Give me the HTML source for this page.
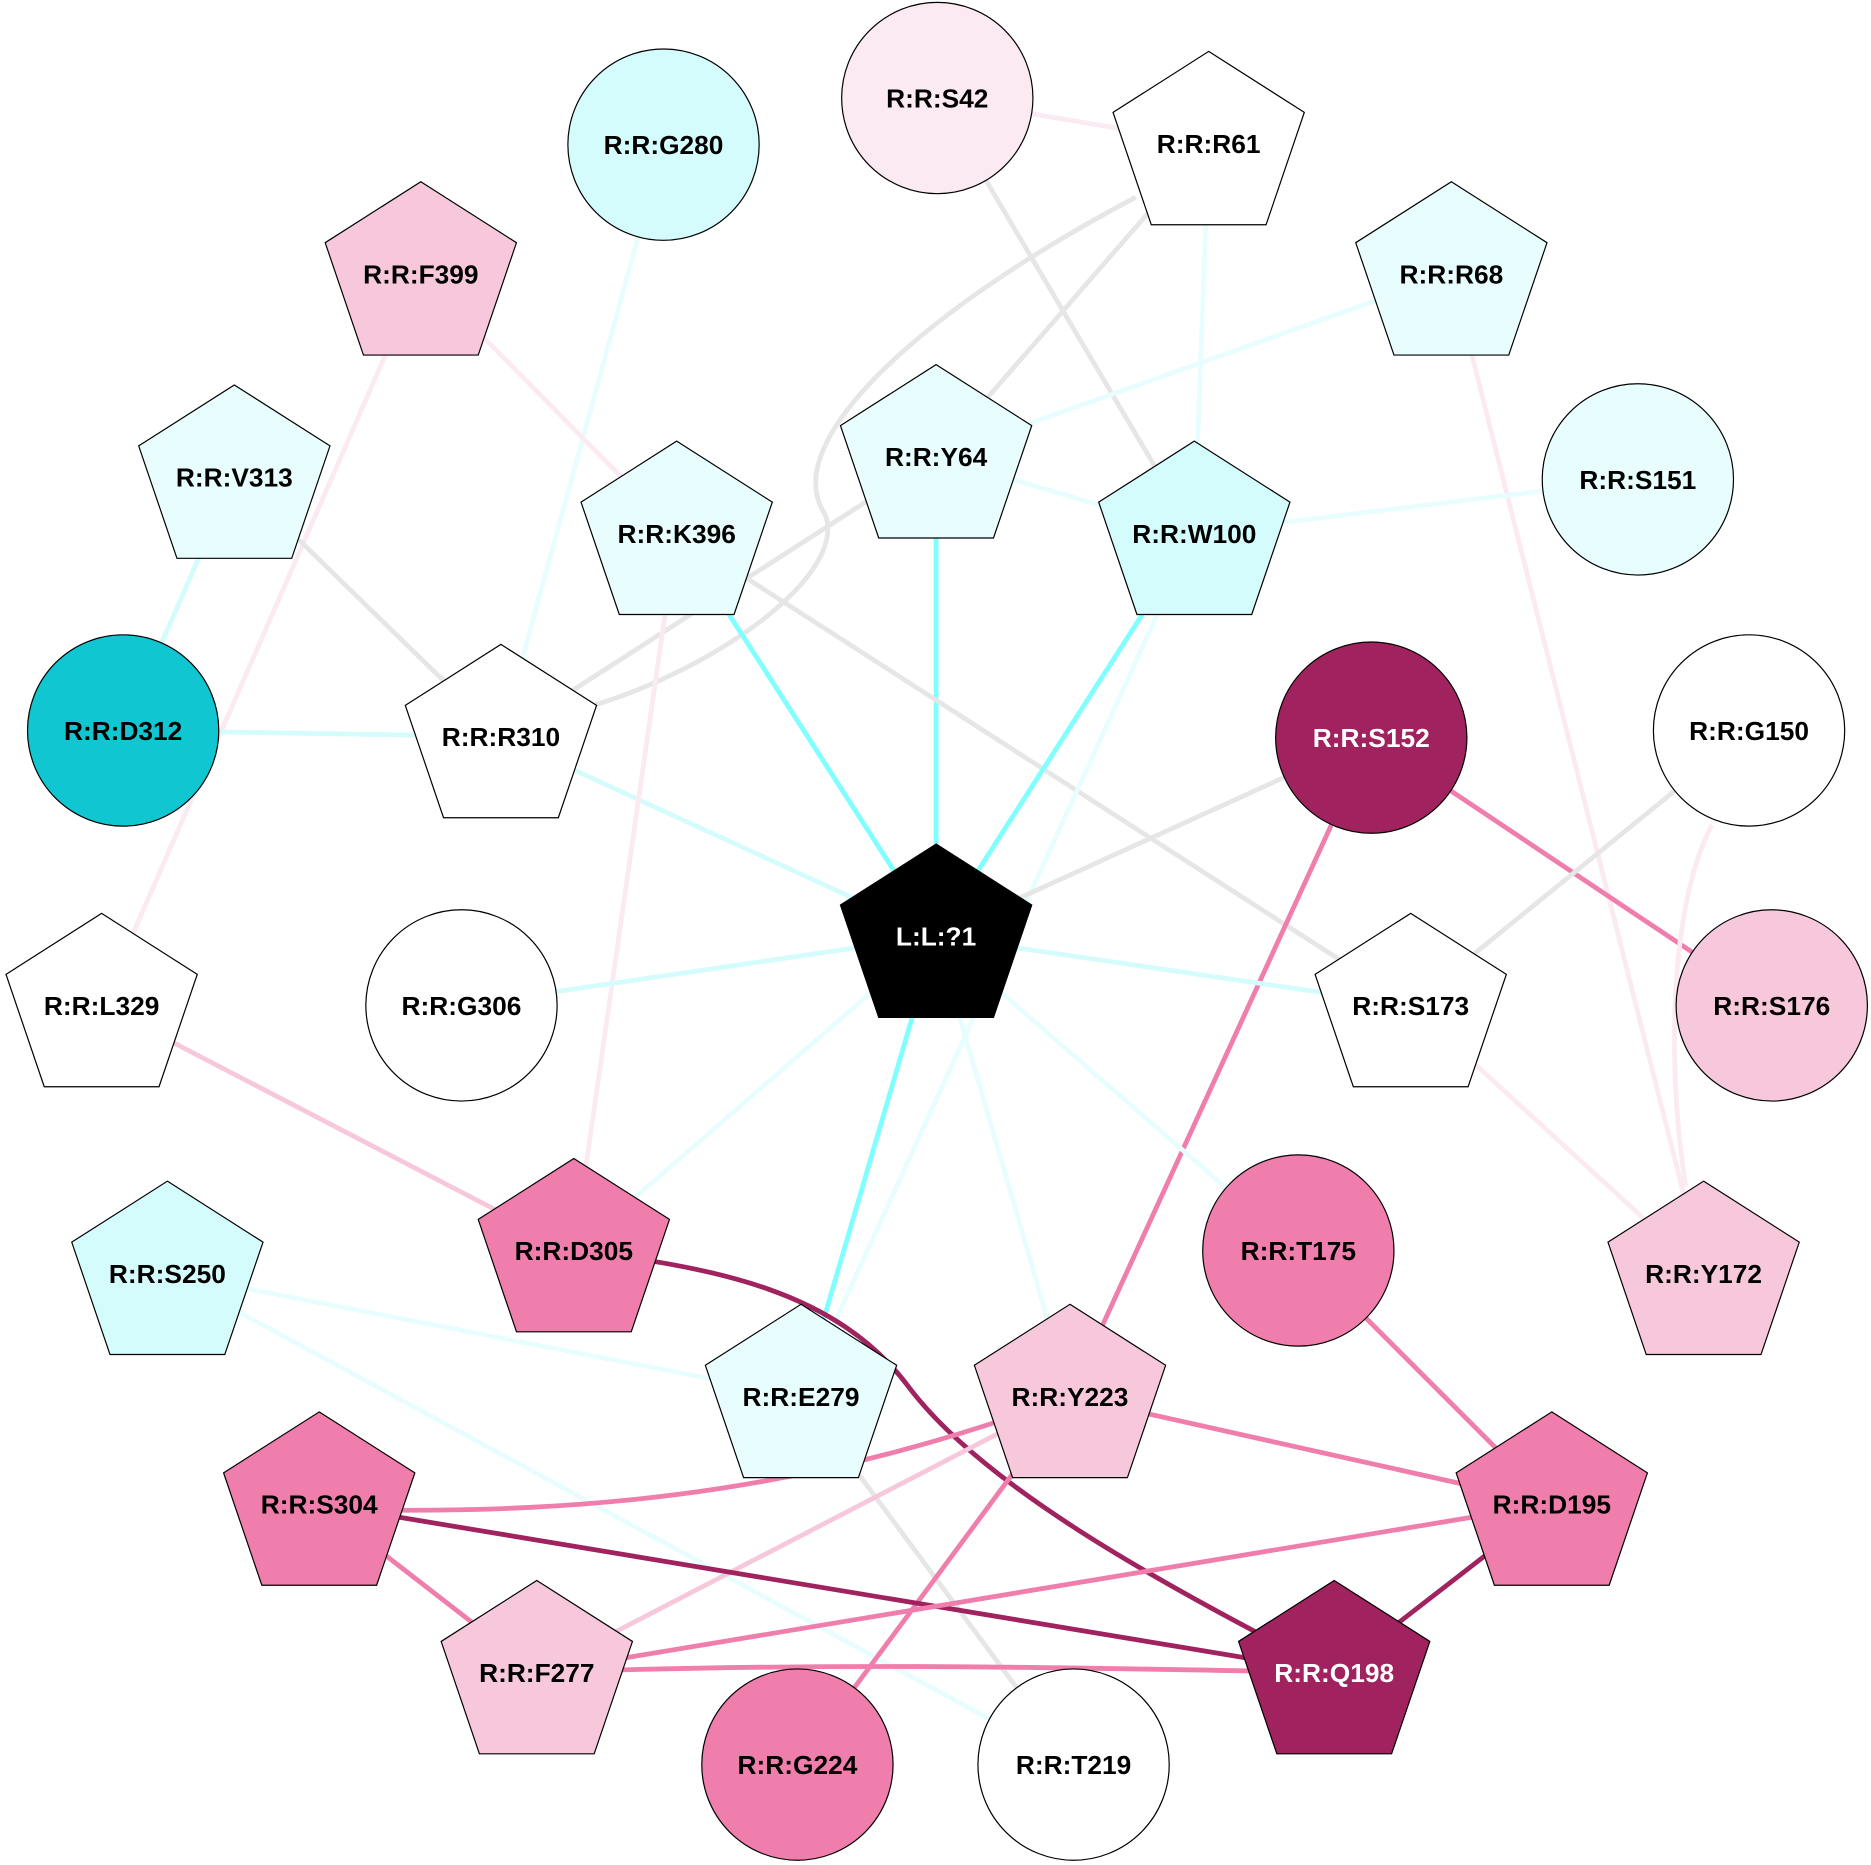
<!DOCTYPE html>
<html><head><style>html,body{margin:0;padding:0;background:#fff}svg{display:block}</style></head><body>
<svg width="1871" height="1865" viewBox="0 0 1565 1560" xmlns="http://www.w3.org/2000/svg" font-family="Liberation Sans, Arial, sans-serif" font-weight="bold" font-size="22">
<defs>
<symbol id="p" overflow="visible"><polygon points="0,-77 80,-26 48,68 -48,68 -80,-26" stroke="#000" stroke-width="1"/></symbol>
</defs>
<g fill="none" stroke-width="4">
<line x1="784" y1="82" x2="1011" y2="120" stroke="#fbeaf2"/>
<line x1="784" y1="82" x2="999" y2="446" stroke="#e6e6e6"/>
<line x1="1011" y1="120" x2="783" y2="382" stroke="#e6e6e6"/>
<path d="M950,165 C770,260 650,370 690,430 C710,480 600,560 490,592" stroke="#e6e6e6"/>
<line x1="783" y1="382" x2="419" y2="616" stroke="#e6e6e6"/>
<line x1="1011" y1="120" x2="999" y2="446" stroke="#e8fdfd"/>
<line x1="1214" y1="229" x2="783" y2="382" stroke="#e8fdfd"/>
<line x1="1214" y1="229" x2="1425" y2="1065" stroke="#fbeaf2"/>
<line x1="555" y1="121" x2="419" y2="616" stroke="#e8fdfd"/>
<line x1="352" y1="229" x2="566" y2="446" stroke="#fbeaf2"/>
<line x1="352" y1="229" x2="85" y2="841" stroke="#fbeaf2"/>
<line x1="196" y1="399" x2="103" y2="611" stroke="#d4fcfc"/>
<line x1="196" y1="399" x2="419" y2="616" stroke="#e6e6e6"/>
<line x1="103" y1="611" x2="419" y2="616" stroke="#d4fcfc"/>
<line x1="419" y1="616" x2="783" y2="783" stroke="#d4fcfc"/>
<line x1="783" y1="382" x2="783" y2="783" stroke="#80ffff"/>
<line x1="783" y1="382" x2="999" y2="446" stroke="#e8fdfd"/>
<line x1="566" y1="446" x2="783" y2="783" stroke="#80ffff"/>
<line x1="566" y1="446" x2="1180" y2="841" stroke="#e6e6e6"/>
<line x1="566" y1="446" x2="480" y2="1046" stroke="#fbeaf2"/>
<line x1="999" y1="446" x2="783" y2="783" stroke="#80ffff"/>
<line x1="999" y1="446" x2="1370" y2="401" stroke="#e8fdfd"/>
<line x1="999" y1="446" x2="670" y2="1168" stroke="#e8fdfd"/>
<line x1="1147" y1="617" x2="783" y2="783" stroke="#e6e6e6"/>
<line x1="1147" y1="617" x2="895" y2="1168" stroke="#f07eac"/>
<line x1="1147" y1="617" x2="1482" y2="841" stroke="#f07eac"/>
<line x1="1463" y1="611" x2="1180" y2="841" stroke="#e6e6e6"/>
<path d="M1432,690 C1395,760 1395,900 1410,992" stroke="#fbeaf2"/>
<line x1="783" y1="783" x2="386" y2="841" stroke="#d4fcfc"/>
<line x1="783" y1="783" x2="1180" y2="841" stroke="#d4fcfc"/>
<line x1="783" y1="783" x2="480" y2="1046" stroke="#e8fdfd"/>
<line x1="783" y1="783" x2="670" y2="1168" stroke="#80ffff"/>
<line x1="783" y1="783" x2="895" y2="1168" stroke="#e8fdfd"/>
<line x1="783" y1="783" x2="1086" y2="1046" stroke="#e8fdfd"/>
<line x1="85" y1="841" x2="480" y2="1046" stroke="#f7c8dc"/>
<line x1="1180" y1="841" x2="1425" y2="1065" stroke="#fbeaf2"/>
<path d="M480,1046 C600,1060 700,1080 760,1160 C820,1240 960,1320 1116,1399" stroke="#a0225e"/>
<line x1="1086" y1="1046" x2="1298" y2="1258" stroke="#f07eac"/>
<line x1="140" y1="1065" x2="670" y2="1168" stroke="#e8fdfd"/>
<line x1="140" y1="1065" x2="898" y2="1476" stroke="#e8fdfd"/>
<line x1="670" y1="1168" x2="898" y2="1476" stroke="#e6e6e6"/>
<line x1="895" y1="1168" x2="1298" y2="1258" stroke="#f07eac"/>
<path d="M895,1168 C700,1240 520,1270 267,1262" stroke="#f07eac"/>
<line x1="895" y1="1168" x2="449" y2="1399" stroke="#f7c8dc"/>
<line x1="895" y1="1168" x2="667" y2="1476" stroke="#f07eac"/>
<line x1="267" y1="1258" x2="1116" y2="1399" stroke="#a0225e"/>
<line x1="267" y1="1258" x2="449" y2="1399" stroke="#f07eac"/>
<line x1="1298" y1="1258" x2="449" y2="1399" stroke="#f07eac"/>
<line x1="1298" y1="1258" x2="1116" y2="1399" stroke="#a0225e"/>
<path d="M449,1399 C700,1390 900,1395 1116,1399" stroke="#f07eac"/>
</g>
<g stroke="#000" stroke-width="1">
<circle cx="784" cy="82" r="80" fill="#fbeaf2"/>
<circle cx="555" cy="121" r="80" fill="#d4fcfc"/>
<circle cx="1370" cy="401" r="80" fill="#e8fdfd"/>
<circle cx="103" cy="611" r="80" fill="#10c6d0"/>
<circle cx="1147" cy="617" r="80" fill="#a0225e"/>
<circle cx="1463" cy="611" r="80" fill="#fff"/>
<circle cx="386" cy="841" r="80" fill="#fff"/>
<circle cx="1482" cy="841" r="80" fill="#f7c8dc"/>
<circle cx="1086" cy="1046" r="80" fill="#f07eac"/>
<circle cx="667" cy="1476" r="80" fill="#f07eac"/>
<circle cx="898" cy="1476" r="80" fill="#fff"/>
</g>
<use href="#p" x="783" y="783" fill="#000"/>
<use href="#p" x="1011" y="120" fill="#fff"/>
<use href="#p" x="352" y="229" fill="#f7c8dc"/>
<use href="#p" x="1214" y="229" fill="#e8fdfd"/>
<use href="#p" x="196" y="399" fill="#e8fdfd"/>
<use href="#p" x="783" y="382" fill="#e8fdfd"/>
<use href="#p" x="566" y="446" fill="#e8fdfd"/>
<use href="#p" x="999" y="446" fill="#d4fcfc"/>
<use href="#p" x="419" y="616" fill="#fff"/>
<use href="#p" x="85" y="841" fill="#fff"/>
<use href="#p" x="1180" y="841" fill="#fff"/>
<use href="#p" x="480" y="1046" fill="#f07eac"/>
<use href="#p" x="1425" y="1065" fill="#f7c8dc"/>
<use href="#p" x="140" y="1065" fill="#d4fcfc"/>
<use href="#p" x="670" y="1168" fill="#e8fdfd"/>
<use href="#p" x="895" y="1168" fill="#f7c8dc"/>
<use href="#p" x="267" y="1258" fill="#f07eac"/>
<use href="#p" x="1298" y="1258" fill="#f07eac"/>
<use href="#p" x="449" y="1399" fill="#f7c8dc"/>
<use href="#p" x="1116" y="1399" fill="#a0225e"/>
<g text-anchor="middle" fill="#000">
<text x="783" y="791" fill="#fff">L:L:?1</text>
<text x="784" y="90">R:R:S42</text>
<text x="1011" y="128">R:R:R61</text>
<text x="555" y="129">R:R:G280</text>
<text x="352" y="237">R:R:F399</text>
<text x="1214" y="237">R:R:R68</text>
<text x="196" y="407">R:R:V313</text>
<text x="783" y="390">R:R:Y64</text>
<text x="566" y="454">R:R:K396</text>
<text x="999" y="454">R:R:W100</text>
<text x="1370" y="409">R:R:S151</text>
<text x="103" y="619">R:R:D312</text>
<text x="419" y="624">R:R:R310</text>
<text x="1147" y="625" fill="#fff">R:R:S152</text>
<text x="1463" y="619">R:R:G150</text>
<text x="85" y="849">R:R:L329</text>
<text x="386" y="849">R:R:G306</text>
<text x="1180" y="849">R:R:S173</text>
<text x="1482" y="849">R:R:S176</text>
<text x="480" y="1054">R:R:D305</text>
<text x="1086" y="1054">R:R:T175</text>
<text x="1425" y="1073">R:R:Y172</text>
<text x="140" y="1073">R:R:S250</text>
<text x="670" y="1176">R:R:E279</text>
<text x="895" y="1176">R:R:Y223</text>
<text x="267" y="1266">R:R:S304</text>
<text x="1298" y="1266">R:R:D195</text>
<text x="449" y="1407">R:R:F277</text>
<text x="1116" y="1407" fill="#fff">R:R:Q198</text>
<text x="667" y="1484">R:R:G224</text>
<text x="898" y="1484">R:R:T219</text>
</g>
</svg>
</body></html>
